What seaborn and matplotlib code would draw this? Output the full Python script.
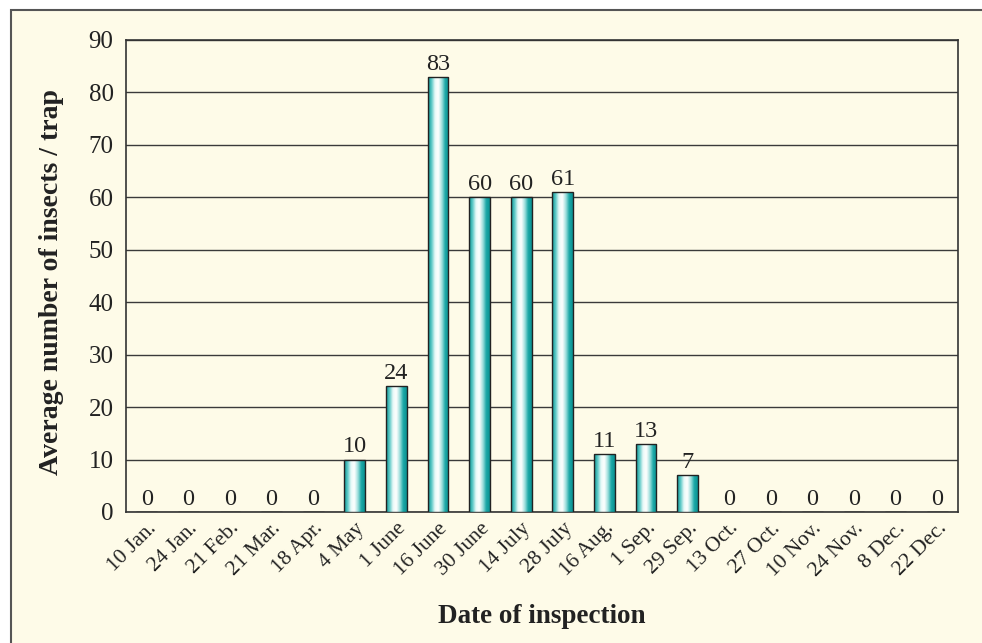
import numpy as np
import pandas as pd
import matplotlib
matplotlib.use("Agg")
import matplotlib.pyplot as plt
import seaborn as sns
from matplotlib.colors import LinearSegmentedColormap
from matplotlib.patches import Rectangle

dates = ["10 Jan.", "24 Jan.", "21 Feb.", "21 Mar.", "18 Apr.", "4 May", "1 June",
         "16 June", "30 June", "14 July", "28 July", "16 Aug.", "1 Sep.", "29 Sep.",
         "13 Oct.", "27 Oct.", "10 Nov.", "24 Nov.", "8 Dec.", "22 Dec."]
insects = [0, 0, 0, 0, 0, 10, 24, 83, 60, 60, 61, 11, 13, 7, 0, 0, 0, 0, 0, 0]

df = pd.DataFrame({"date": dates, "insects": insects})

sns.set_style("white")
plt.rcParams["font.family"] = ["Liberation Serif", "DejaVu Serif"]

cream = "#FEFBE8"
fig = plt.figure(figsize=(9.82, 6.43), dpi=100, facecolor="white")
# outer frame of the figure panel
frame = Rectangle((11 / 982, -0.05), 1.0, 1 - 10 / 643 + 0.05,
                  transform=fig.transFigure, facecolor=cream,
                  edgecolor="#555555", linewidth=1.5, zorder=-10)
fig.patches.append(frame)
ax = fig.add_axes([126 / 982, 1 - 512 / 643, (958 - 126) / 982, (512 - 40) / 643])
ax.set_zorder(1)
ax.set_facecolor(cream)

sns.barplot(data=df, x="date", y="insects", color="#1AA9A9", width=0.5,
            edgecolor="#222222", linewidth=1.0, ax=ax, zorder=3)

# cylinder-like shading on each bar
cmap = LinearSegmentedColormap.from_list(
    "cyl", ["#0B9696", "#5CC9C7", "#E9FAF8", "#FFFFFF", "#9EDFDC", "#1AA7A6", "#0B9393"])
grad = np.linspace(0, 1, 64).reshape(1, -1)
for p in ax.patches:
    h = p.get_height()
    if h <= 0:
        continue
    x0 = p.get_x()
    w = p.get_width()
    im = ax.imshow(grad, cmap=cmap, aspect="auto", extent=[x0, x0 + w, 0, h],
                   zorder=3.5, interpolation="bicubic")
    im.set_clip_path(p)
    p.set_facecolor("none")
    p.set_zorder(4)

n = len(dates)
ax.set_xlim(-0.5, n - 0.5)
ax.set_ylim(0, 90)
ax.set_yticks(range(0, 91, 10))
ax.yaxis.grid(True, color="#3a3a3a", linewidth=1.0)
ax.set_axisbelow(True)

# tick marks at category boundaries, labels at centers
ax.set_xticks(np.arange(-0.5, n, 1.0))
ax.set_xticklabels([])
ax.set_xticks(np.arange(n), minor=True)
ax.set_xticklabels(dates, minor=True, rotation=45, ha="right", va="top",
                   rotation_mode="anchor", fontsize=15.5)
ax.tick_params(axis="x", which="minor", length=0, pad=5)
ax.tick_params(axis="x", which="major", length=6, width=1.2, color="#333333", direction="out")
ax.tick_params(axis="y", length=6, width=1.2, color="#333333", direction="out",
               labelsize=18, pad=3)
for lbl in ax.get_xticklabels(minor=True) + ax.get_yticklabels():
    lbl.set_color("#222222")

for s in ax.spines.values():
    s.set_color("#333333")
    s.set_linewidth(1.2)
    s.set_visible(True)

for i, v in enumerate(insects):
    ax.annotate(str(v), (i, v), xytext=(0, 1.5), textcoords="offset points",
                ha="center", va="bottom", fontsize=17.5, color="#222222")

ax.set_xlabel("Date of inspection", fontsize=19.5, fontweight="bold", labelpad=17,
              color="#222222")
ax.set_ylabel("Average number of insects / trap", fontsize=20, fontweight="bold",
              color="#222222")
ax.yaxis.set_label_coords(-0.074, 0.487)

fig.savefig("out.png", dpi=100, facecolor=fig.get_facecolor())
